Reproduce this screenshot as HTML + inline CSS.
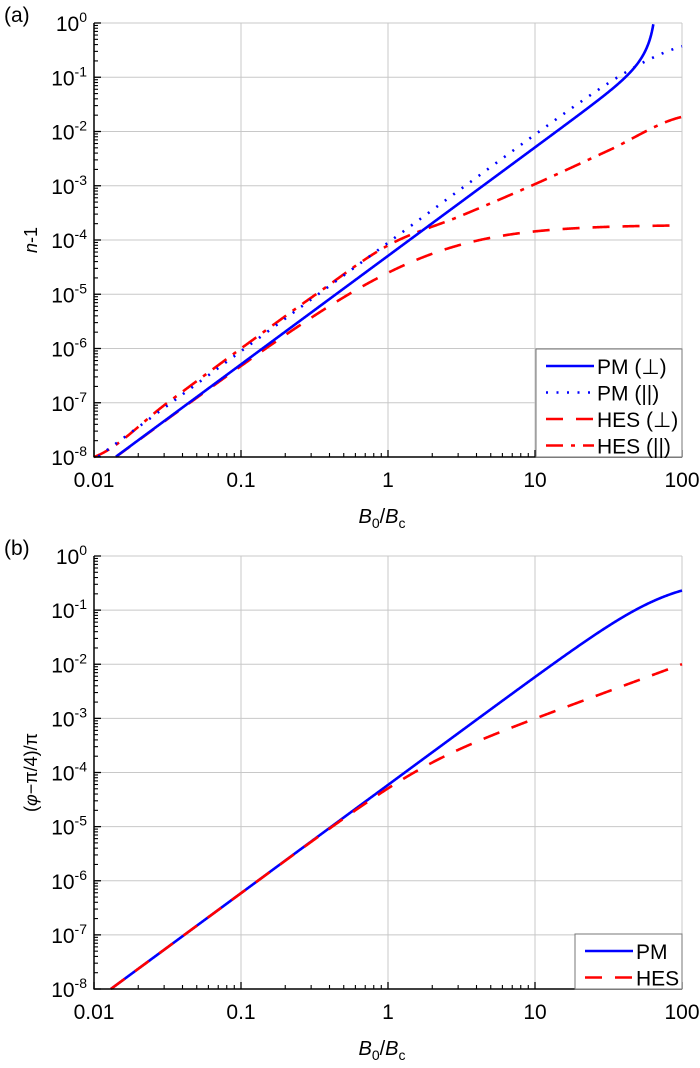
<!DOCTYPE html>
<html><head><meta charset="utf-8"><style>
body{margin:0;background:#fff;}
svg text{font-family:"Liberation Sans",Arial,sans-serif;fill:#000;}
</style></head><body>
<svg id="s" width="700" height="1063" xmlns="http://www.w3.org/2000/svg"></svg>
<script>
const S=document.getElementById('s');const NS='http://www.w3.org/2000/svg';
function el(t,a,txt){const e=document.createElementNS(NS,t);for(const k in a)e.setAttribute(k,a[k]);if(txt!==undefined)e.textContent=txt;S.appendChild(e);return e;}
const L=94,R=682,DX=(R-L)/4;
function panel(top,bot,label,ylab,series,legend){
  const DY=(bot-top)/8;
  const X=u=>L+(u+2)*DX, Y=v=>top+(-v)*DY;
  for(let i=1;i<=4;i++)el('line',{x1:X(-2+i),x2:X(-2+i),y1:top,y2:bot,stroke:'#c8c8c8','stroke-width':1});
  for(let i=0;i<8;i++)el('line',{x1:L,x2:R,y1:Y(-i),y2:Y(-i),stroke:'#c8c8c8','stroke-width':1});
  for(const s of series){
    let d='';let first=true;
    for(let u=-2;u<=2.0001;u+=0.005){let lv=s.lf?s.lf(u):Math.log10(s.f(Math.pow(10,u)));if(!(lv<=0.02))break;if(lv<-8)continue;
      d+=(first?'M':'L')+X(u).toFixed(2)+' '+Y(lv).toFixed(2);first=false;}
    el('path',{d:d,fill:'none',stroke:s.c,'stroke-width':2.6,'stroke-dasharray':s.da||'','stroke-linecap':s.cap||'butt'});
  }
  el('line',{x1:L,x2:L,y1:top,y2:bot+0.5,stroke:'#000','stroke-width':1.5});
  el('line',{x1:L,x2:R,y1:bot,y2:bot,stroke:'#000','stroke-width':1.5});
  for(let i=0;i<=4;i++){el('line',{x1:X(-2+i),x2:X(-2+i),y1:bot,y2:bot-7,stroke:'#000','stroke-width':1.3});
    if(i<4)for(let k=2;k<=9;k++){const x=X(-2+i+Math.log10(k));el('line',{x1:x,x2:x,y1:bot,y2:bot-4,stroke:'#000','stroke-width':1.1});}
    el('text',{x:X(-2+i),y:bot+30,'font-size':21,'text-anchor':'middle'},['0.01','0.1','1','10','100'][i]);}
  for(let i=0;i<=8;i++){const y=Y(-i);el('line',{x1:L,x2:L+7,y1:y,y2:y,stroke:'#000','stroke-width':1.3});
    if(i<8)for(let k=2;k<=9;k++){const yy=Y(-i-1+Math.log10(k));el('line',{x1:L,x2:L+4,y1:yy,y2:yy,stroke:'#000','stroke-width':1.1});}
    const t=el('text',{x:L-7,y:y+8,'font-size':21,'text-anchor':'end'});
    t.innerHTML='10<tspan dy="-9" font-size="14">'+(i==0?'0':'-'+i)+'</tspan>';}
  el('text',{x:4,y:top-1,'font-size':21},label);
  const xl=el('text',{x:(L+R)/2-6,y:bot+66,'font-size':20,'text-anchor':'middle'});
  xl.innerHTML='<tspan font-style="italic">B</tspan><tspan dy="5" font-size="14">0</tspan><tspan dy="-5">/</tspan><tspan font-style="italic">B</tspan><tspan dy="5" font-size="14">c</tspan>';
  const yl=el('text',{x:0,y:0,'font-size':18,'text-anchor':'middle',transform:'translate(37,'+((top+bot)/2)+') rotate(-90)'});
  yl.innerHTML=ylab;
  const lg=legend;
  el('rect',{x:lg.x,y:lg.y,width:R-lg.x,height:lg.h,fill:'#fff',stroke:'#777','stroke-width':1});
  lg.items.forEach((it,j)=>{const y=lg.y+17+j*26.5;
    el('line',{x1:lg.x+10,x2:lg.x+58,y1:y,y2:y,stroke:it.c,'stroke-width':2.6,'stroke-dasharray':it.da||'','stroke-linecap':it.cap||'butt'});
    el('text',{x:lg.x+61,y:y+8,'font-size':21},it.t);});
}
function spline(us,vs){return u=>{let i=0;while(i<us.length-2&&u>us[i+1])i++;
  const p0=vs[Math.max(i-1,0)],p1=vs[i],p2=vs[i+1],p3=vs[Math.min(i+2,vs.length-1)];
  const t=(u-us[i])/(us[i+1]-us[i]);const t2=t*t,t3=t2*t;
  return 0.5*((2*p1)+(-p0+p2)*t+(2*p0-5*p1+4*p2-p3)*t2+(-p0+3*p1-3*p2+p3)*t3);};}
const aP=5.1e-5;
const pmPerp=B=>{const r=Math.pow(B/67.9,4);return r>=1?10:aP*B*B/(1-r);};
const pmPar=B=>8.9e-5*B*B/(1+Math.pow(B/85,2));
const hesPerp=B=>aP*B*B/Math.pow(1+Math.pow(B/1.93,1.1),2/1.1);
const hesParL=spline([-2,-1.5,-1,-0.5,0,0.5,1,1.5,2],[-8,-7,-6,-5.02,-4.1,-3.55,-2.97,-2.35,-1.73]);
const dot='2,8.5',dash='17,13',dd='17,8,4,8';
panel(23,457,'(a)','<tspan font-style="italic">n</tspan>-1',[
 {f:hesPerp,c:'#ff0000',da:dash},
 {lf:hesParL,c:'#ff0000',da:dd},
 {f:pmPar,c:'#0000ff',da:dot},
 {f:pmPerp,c:'#0000ff'}],
 {x:536,y:349,h:108,items:[{t:'PM (⊥)',c:'#0000ff'},{t:'PM (||)',c:'#0000ff',da:dot},{t:'HES (⊥)',c:'#ff0000',da:dash},{t:'HES (||)',c:'#ff0000',da:dd}]});
const bP=5.9e-5;
panel(556,989,'(b)','(<tspan font-style="italic">φ</tspan>−π/4)/π',[
 {f:B=>bP*B*B/(1+Math.pow(B/80,2)),c:'#0000ff'},
 {f:B=>bP*B*B/Math.sqrt(1+Math.pow(B/1.7,2)),c:'#ff0000',da:dash}],
 {x:575,y:934,h:55,items:[{t:'PM',c:'#0000ff'},{t:'HES',c:'#ff0000',da:dash}]});
</script>
</body></html>
